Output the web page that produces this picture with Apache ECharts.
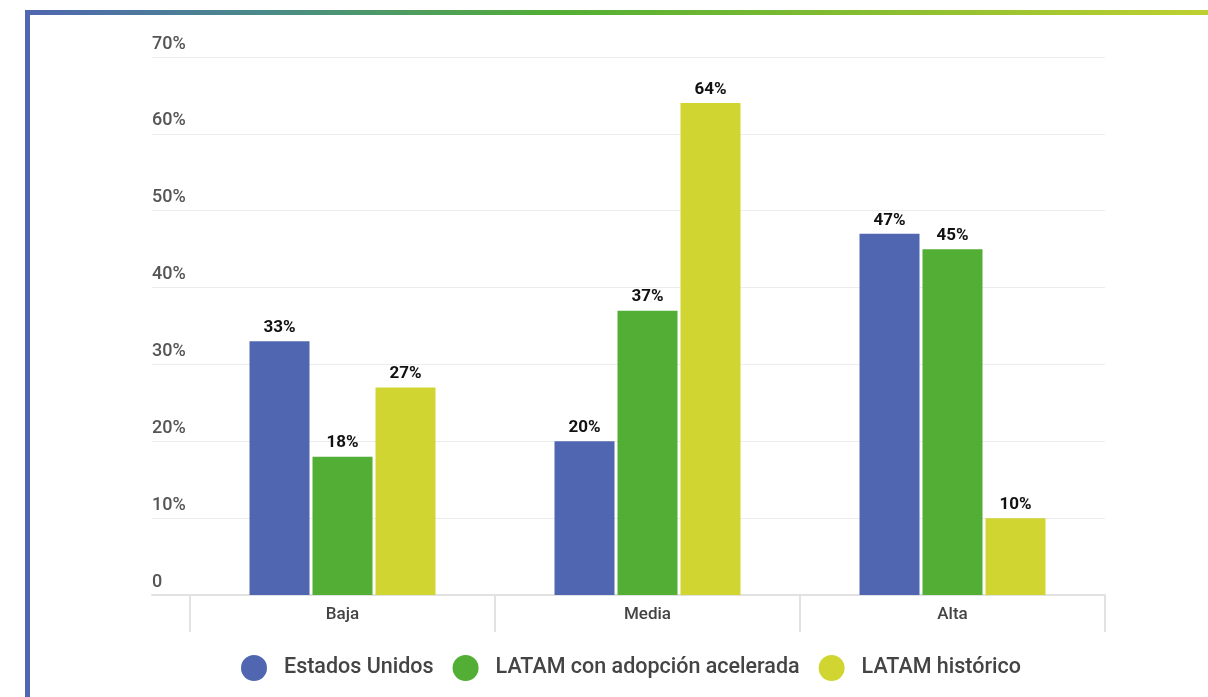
<!DOCTYPE html>
<html>
<head>
<meta charset="utf-8">
<script src="https://cdn.jsdelivr.net/npm/echarts@6/dist/echarts.min.js"></script>
<style>
html,body{margin:0;padding:0;background:#fff;}
#wrap{position:relative;width:1208px;height:697px;overflow:hidden;}
#topbar{position:absolute;left:25px;top:10px;width:1183px;height:5px;background:linear-gradient(to right,#5066b0 0%,#4a8a8a 20%,#52ae34 45%,#8ebf30 75%,#bfd030 100%);}
#leftbar{position:absolute;left:25px;top:10px;width:5px;height:687px;background:#5066b0;}
#chart{position:absolute;left:0;top:0;width:1208px;height:697px;}
</style>
</head>
<body>
<div id="wrap">
<div id="chart"></div>
<div id="topbar"></div>
<div id="leftbar"></div>
</div>
<script>
const categories = ['Baja', 'Media', 'Alta'];
const seriesNames = ['Estados Unidos', 'LATAM con adopción acelerada', 'LATAM histórico'];
const estadosUnidos = [33, 20, 47];
const latamAcelerada = [18, 37, 45];
const latamHistorico = [27, 64, 10];
const yTicks = [0, 10, 20, 30, 40, 50, 60, 70];

const colors = ['#5066b0', '#52ae34', '#d0d531'];
const font = 'Roboto, "Noto Sans", sans-serif';

const chart = echarts.init(document.getElementById('chart'), null, {renderer: 'canvas'});

function barSeries(name, data, color) {
  return {
    name: name,
    type: 'bar',
    xAxisIndex: 1,
    yAxisIndex: 1,
    data: data,
    barWidth: 60,
    barGap: '5%',
    itemStyle: {color: color},
    label: {
      show: true,
      position: 'top',
      distance: 5,
      formatter: '{c}%',
      color: '#111',
      fontWeight: 'bold',
      fontSize: 17,
      fontFamily: font
    },
    emphasis: {disabled: true}
  };
}

chart.setOption({
  animation: false,
  color: colors,
  grid: [
    {left: 152, right: 103, top: 57, bottom: 102},
    {left: 190, right: 103, top: 57, bottom: 102}
  ],
  xAxis: [
    {
      gridIndex: 0, type: 'value', min: 0, max: 1,
      axisLine: {show: true, lineStyle: {color: '#e2e2e2', width: 2}},
      axisTick: {show: false}, axisLabel: {show: false}, splitLine: {show: false}
    },
    {
      gridIndex: 1, type: 'category', data: categories,
      axisLine: {show: false},
      axisTick: {show: true, interval: 0, length: 37, lineStyle: {color: '#e2e2e2', width: 2}},
      axisLabel: {color: '#444', fontSize: 17, fontWeight: 500, fontFamily: font, margin: 11}
    }
  ],
  yAxis: [
    {
      gridIndex: 0, type: 'value', min: yTicks[0], max: yTicks[yTicks.length - 1], interval: 10,
      axisLine: {show: false}, axisTick: {show: false},
      axisLabel: {
        inside: true, margin: 0, verticalAlign: 'bottom', padding: [0, 0, 4, 0],
        color: '#555', fontSize: 18, fontWeight: 500, fontFamily: font,
        formatter: v => v === 0 ? '0' : v + '%'
      },
      splitLine: {lineStyle: {color: '#ececec', width: 1}}
    },
    {
      gridIndex: 1, type: 'value', min: yTicks[0], max: yTicks[yTicks.length - 1], interval: 10,
      show: false
    }
  ],
  legend: {
    data: seriesNames,
    left: 236,
    top: 650,
    icon: 'circle',
    itemWidth: 26,
    itemHeight: 26,
    itemGap: 19,
    textStyle: {color: '#444', fontSize: 21.5, fontWeight: 500, fontFamily: font, padding: [0, 0, 0, 12]}
  },
  series: [
    barSeries(seriesNames[0], estadosUnidos, colors[0]),
    barSeries(seriesNames[1], latamAcelerada, colors[1]),
    barSeries(seriesNames[2], latamHistorico, colors[2])
  ]
});
</script>
</body>
</html>
